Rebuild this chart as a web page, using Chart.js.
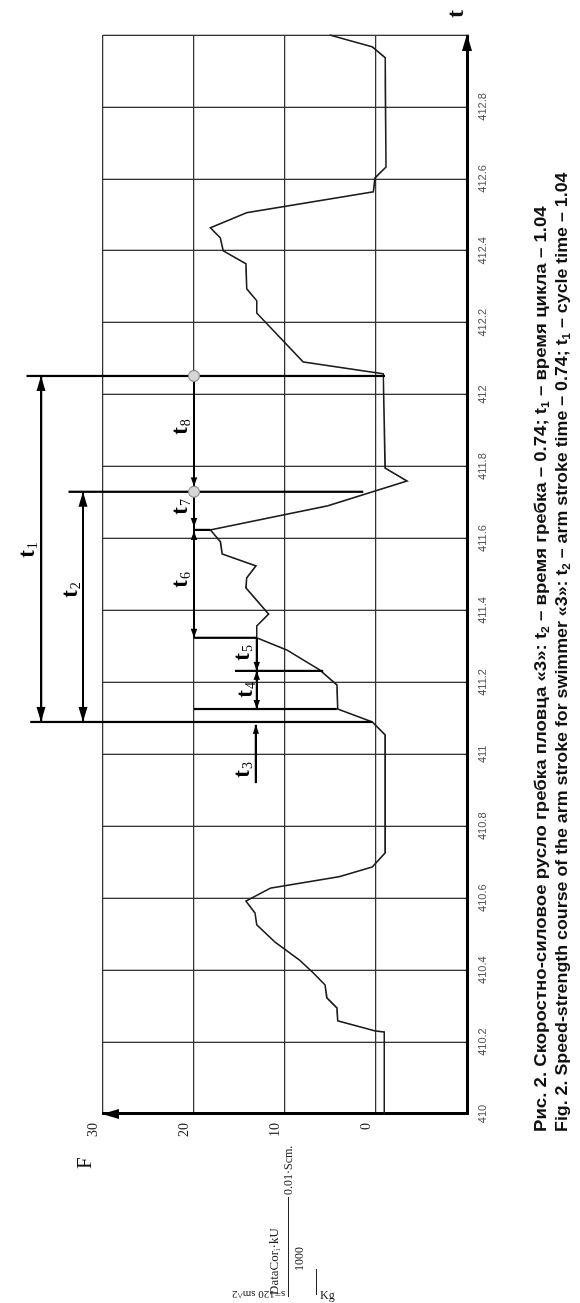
<!DOCTYPE html>
<html><head><meta charset="utf-8">
<script src="https://cdn.jsdelivr.net/npm/chart.js@4.4.1/dist/chart.umd.min.js"></script>
<style>
html,body{margin:0;padding:0;background:#fff;overflow:hidden;width:580px;height:1303px;}
#rot{position:absolute;left:0;top:0;width:1303px;height:580px;transform-origin:0 0;transform:translate(0,1303px) rotate(-90deg);}
#c{position:absolute;left:0;top:0;}
.cap{position:absolute;white-space:nowrap;font:bold 17px "Liberation Sans",Arial,sans-serif;color:#111;line-height:20px;transform-origin:0 50%;}
.cap sub{font-size:11px;vertical-align:-3px;line-height:0;}
.fm{position:absolute;white-space:nowrap;font:13px "Liberation Serif",serif;color:#222;line-height:14px;}
.fm sub{font-size:9px;vertical-align:-2px;line-height:0;}
.bar{position:absolute;height:1px;background:#222;}
.ax{position:absolute;font-family:"Liberation Serif",serif;color:#111;line-height:1;}
.scr{position:absolute;font:11px "Liberation Serif",serif;color:#222;white-space:nowrap;line-height:12px;}
</style></head><body>
<div id="rot">
  <canvas id="c" width="1303" height="580"></canvas>
  <div class="cap" id="cap1" style="left:171px;top:531px;">Рис. 2. Скоростно-силовое русло гребка пловца «3»: t<sub>2</sub> – время гребка – 0.74; t<sub>1</sub> – время цикла – 1.04</div>
  <div class="cap" id="cap2" style="left:171px;top:552px;">Fig. 2. Speed-strength course of the arm stroke for swimmer «3»: t<sub>2</sub> – arm stroke time – 0.74; t<sub>1</sub> – cycle time – 1.04</div>
  <div class="ax" style="left:134px;top:74px;font-size:21px;">F</div>
  <div class="ax" style="left:1285px;top:443px;font-size:24px;font-weight:bold;">t</div>
  <div class="fm" style="left:8px;top:267px;">DataCor<sub>i</sub>·kU</div>
  <div class="bar" style="left:6px;top:288px;width:100px;"></div>
  <div class="fm" style="left:32px;top:292px;font-size:12px;">1000</div>
  <div class="fm" style="left:108px;top:281px;font-size:12px;">0.01·Scm.</div>
  <div class="bar" style="left:8px;top:316px;width:26px;"></div>
</div>
<div class="scr" style="left:232px;top:1289px;transform:rotate(180deg);">s=120 sm^2</div>
<div class="scr" style="left:320px;top:1289px;font-size:12px;">Kg</div>
<script>
// ---- data ----
const times  = [410.0, 410.228, 410.231, 410.259, 410.295, 410.323, 410.359, 410.395, 410.428, 410.478, 410.526, 410.559, 410.592, 410.628, 410.66, 410.687, 410.726, 411.054, 411.09, 411.126, 411.193, 411.235, 411.29, 411.324, 411.357, 411.39, 411.463, 411.491, 411.524, 411.557, 411.591, 411.624, 411.691, 411.76, 411.796, 412.058, 412.091, 412.227, 412.261, 412.294, 412.364, 412.4, 412.436, 412.464, 412.506, 412.564, 412.603, 412.633, 412.937, 412.967, 413.0];
const forces = [-0.9, -0.9, 0.1, 4.2, 4.3, 5.4, 5.6, 7.0, 8.4, 11.1, 13.1, 13.3, 14.3, 11.6, 4.0, 0.4, -1.0, -1.0, 0.4, 4.2, 4.3, 6.2, 9.8, 13.1, 13.1, 11.8, 14.3, 14.2, 13.2, 16.9, 17.1, 18.2, 5.3, -3.4, -1.0, -0.8, 8.0, 13.1, 13.1, 14.2, 14.3, 16.8, 17.1, 18.2, 14.2, 0.3, 0.1, -1.1, -1.0, 0.4, 5.1];

const timeTicks      = [410, 410.2, 410.4, 410.6, 410.8, 411, 411.2, 411.4, 411.6, 411.8, 412, 412.2, 412.4, 412.6, 412.8, 413];
const timeTickLabels = ['410','410.2','410.4','410.6','410.8','411','411.2','411.4','411.6','411.8','412','412.2','412.4','412.6','412.8',''];
const forceTicks      = [-10, 0, 10, 20, 30];
const forceTickLabels = ['', '0', '10', '20', '30'];

// phase-marker segments: [t1, F1, t2, F2]
const markerLines = [
  [412.052, 38.4, 412.052, -1.0],
  [411.730, 33.8, 411.730, 1.4],
  [412.052, 20.0, 411.324, 20.0],
  [411.624, 20.0, 411.624, 18.2],
  [411.324, 20.0, 411.324, 13.1],
  [411.324, 13.1, 411.232, 13.1],
  [411.232, 15.5, 411.232, 5.8],
  [411.232, 13.1, 411.126, 13.1],
  [411.126, 20.0, 411.126, 4.3],
  [411.090, 38.0, 411.090, 0.4],
  [412.052, 36.8, 411.090, 36.8],
  [411.730, 32.2, 411.090, 32.2],
  [411.082, 13.2, 410.920, 13.2]
];
// arrow tips: [t, F, direction(+1 toward later time, -1 earlier), big?]
const arrowTips = [
  [412.052, 36.8, 1, 1], [411.090, 36.8, -1, 1],
  [411.730, 32.2, 1, 1], [411.090, 32.2, -1, 1],
  [411.745, 20.0, -1, 0], [411.632, 20.0, -1, 0], [411.621, 20.0, 1, 0], [411.324, 20.0, -1, 0],
  [411.232, 13.1, -1, 0], [411.232, 13.1, 1, 0], [411.126, 13.1, -1, 0],
  [411.082, 13.2, 1, 0]
];
const markerCircles = [[412.052, 20.0], [411.730, 20.0]];
// phase labels: [subscript, t, F]
const phaseLabels = [
  ['1', 411.568, 38.4], ['2', 411.457, 33.6],
  ['8', 411.910, 21.5], ['7', 411.688, 21.5], ['6', 411.485, 21.5],
  ['5', 411.282, 14.7], ['4', 411.179, 14.4], ['3', 410.957, 14.7]
];

const annot = {
  id: 'annot',
  afterDatasetsDraw(chart) {
    const {ctx, scales: {x, y}} = chart;
    const X = t => x.getPixelForValue(t), Y = f => y.getPixelForValue(f);
    ctx.save();
    // axis arrows
    ctx.fillStyle = '#000';
    let px = X(413), py = Y(-10);
    ctx.beginPath(); ctx.moveTo(px + 1, py); ctx.lineTo(px - 16, py - 5); ctx.lineTo(px - 16, py + 5); ctx.closePath(); ctx.fill();
    px = X(410); py = Y(30);
    ctx.beginPath(); ctx.moveTo(px, py - 1); ctx.lineTo(px - 5, py + 16); ctx.lineTo(px + 5, py + 16); ctx.closePath(); ctx.fill();
    // marker lines
    ctx.strokeStyle = '#000'; ctx.lineWidth = 2.2; ctx.lineCap = 'butt';
    markerLines.forEach(([t1, f1, t2, f2]) => {
      ctx.beginPath(); ctx.moveTo(X(t1), Y(f1)); ctx.lineTo(X(t2), Y(f2)); ctx.stroke();
    });
    // arrows
    arrowTips.forEach(([t, f, d, big]) => {
      const ax = X(t), ay = Y(f), L = big ? 15 : 9, W = big ? 4.5 : 3.2;
      ctx.beginPath(); ctx.moveTo(ax, ay); ctx.lineTo(ax - d * L, ay - W); ctx.lineTo(ax - d * L, ay + W); ctx.closePath(); ctx.fill();
    });
    // circles
    markerCircles.forEach(([t, f]) => {
      ctx.beginPath(); ctx.arc(X(t), Y(f), 5.5, 0, Math.PI * 2);
      ctx.fillStyle = '#d6d6d6'; ctx.fill(); ctx.strokeStyle = '#888'; ctx.lineWidth = 1.2; ctx.stroke();
    });
    // labels
    ctx.fillStyle = '#000'; ctx.textBaseline = 'alphabetic';
    phaseLabels.forEach(([s, t, f]) => {
      const cx = X(t), cy = Y(f);
      ctx.font = 'bold 23px "Liberation Serif"';
      const w1 = ctx.measureText('t').width;
      ctx.font = '14px "Liberation Serif"';
      const w2 = ctx.measureText(s).width;
      const left = cx - (w1 + w2 + 1) / 2;
      ctx.font = 'bold 23px "Liberation Serif"';
      ctx.fillText('t', left, cy + 7);
      ctx.font = '14px "Liberation Serif"';
      ctx.fillText(s, left + w1 + 1, cy + 10);
    });
    ctx.restore();
  }
};

new Chart(document.getElementById('c').getContext('2d'), {
  type: 'scatter',
  data: {
    datasets: [{
      data: times.map((t, i) => ({x: t, y: forces[i]})),
      showLine: true, borderColor: '#1c1c1c', borderWidth: 1.6,
      pointRadius: 0, tension: 0, fill: false, clip: false
    }]
  },
  options: {
    responsive: false, animation: false, devicePixelRatio: 1,
    layout: {padding: {left: 0, top: 103, right: 35, bottom: 0}},
    plugins: {legend: {display: false}, tooltip: {enabled: false}},
    scales: {
      x: {
        type: 'linear', position: 'bottom', min: 410, max: 413,
        afterBuildTicks: s => { s.ticks = timeTicks.map(v => ({value: v})); },
        afterFit: s => { s.height = 113; },
        ticks: {
          autoSkip: false, maxRotation: 0, minRotation: 0, padding: 9,
          font: {family: 'Liberation Sans', size: 11}, color: '#555',
          callback: v => { const i = timeTicks.indexOf(v); return i < 0 ? '' : timeTickLabels[i]; }
        },
        grid: {color: '#333', lineWidth: 1.3, drawTicks: false},
        border: {display: true, color: '#000', width: 3}
      },
      y: {
        type: 'linear', position: 'left', min: -10, max: 30,
        afterBuildTicks: s => { s.ticks = forceTicks.map(v => ({value: v})); },
        afterFit: s => { s.width = 189; },
        ticks: {
          autoSkip: false, padding: 9, labelOffset: -10,
          font: {family: 'Liberation Serif', size: 14}, color: '#222',
          callback: v => { const i = forceTicks.indexOf(v); return i < 0 ? '' : forceTickLabels[i]; }
        },
        grid: {color: '#333', lineWidth: 1.3, drawTicks: false},
        border: {display: true, color: '#000', width: 3}
      }
    }
  },
  plugins: [annot]
});

// fit caption lines to their measured lengths in the reference
[['cap1', 926], ['cap2', 960]].forEach(([id, w]) => {
  const el = document.getElementById(id);
  el.style.transform = 'scaleX(' + (w / el.offsetWidth) + ')';
});
</script>
</body></html>
